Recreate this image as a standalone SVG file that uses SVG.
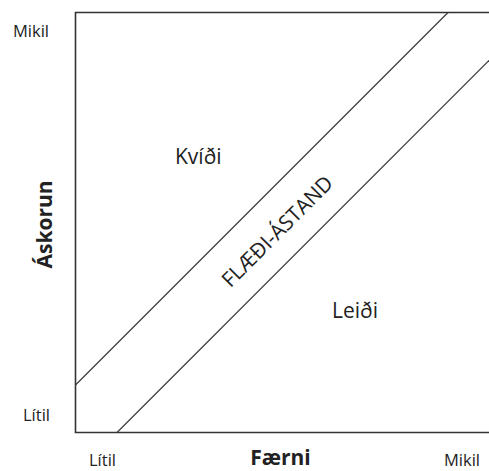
<svg xmlns="http://www.w3.org/2000/svg" width="489" height="471" viewBox="0 0 489 471">
<style>
.axis{fill:none;stroke:#333;stroke-width:1.6}
.diag{fill:none;stroke:#333;stroke-width:1.1}
.t{font-family:"Open Sans","Liberation Sans",sans-serif;fill:#222}
.sm{font-size:16.5px}
.lg{font-size:21px}
.b{font-weight:bold}
</style>
<rect width="489" height="471" fill="#fff"/>
<g id="connectors">
<path class="axis" d="M489,12.5 H75.5 V432.5 H489"/>
<line class="diag" x1="75.5" y1="385" x2="448" y2="12.5"/>
<line class="diag" x1="117" y1="432.5" x2="489" y2="60.5"/>
</g>
<g id="y-axis">
<text class="t sm" x="13" y="37">Mikil</text>
<text class="t sm" x="23" y="421">Lítil</text>
<text class="t lg b" transform="translate(52,224.5) rotate(-90)" text-anchor="middle">Áskorun</text>
</g>
<g id="x-axis">
<text class="t sm" x="89" y="466">Lítil</text>
<text class="t lg b" x="280.5" y="465" text-anchor="middle">Færni</text>
<text class="t sm" x="444" y="466">Mikil</text>
</g>
<g id="kvidi"><text class="t lg" x="175" y="164">Kvíði</text></g>
<g id="flaedi"><text class="t lg" transform="translate(282.5,236.5) rotate(-45)" text-anchor="middle" textLength="147" lengthAdjust="spacingAndGlyphs">FLÆÐI-ÁSTAND</text></g>
<g id="leidi"><text class="t lg" x="332" y="318">Leiði</text></g>
</svg>
